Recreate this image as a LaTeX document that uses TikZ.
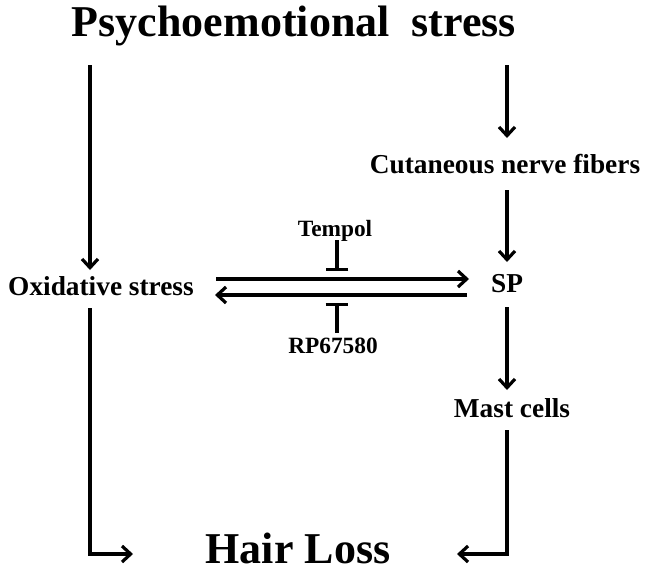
\documentclass[tikz,border=0pt]{standalone}
\usepackage{fontspec}
\setmainfont{Liberation Serif}
\usetikzlibrary{arrows.meta}
\tikzset{
  arr/.style={line width=2.5pt,-{Straight Barb[length=6.5pt,width=12pt,line width=2.4pt]}},
  inh/.style={line width=2.5pt,-{Bar[width=17pt,line width=2.5pt]}},
  lbl/.style={inner sep=0pt,anchor=base,font=\fontsize{20.5}{24}\bfseries\selectfont},
  sml/.style={inner sep=0pt,anchor=base,font=\fontsize{17.5}{21}\bfseries\selectfont},
  big/.style={inner sep=0pt,anchor=base,font=\fontsize{33}{38}\bfseries\selectfont}
}
\begin{document}
\begin{tikzpicture}[x=0.75pt,y=-0.75pt]
\useasboundingbox (0,0) rectangle (648,571);
% texts
\node[big] (title) at (294,36) {Psychoemotional\ \ stress};
\node[lbl] (cut) at (505,173) {Cutaneous nerve fibers};
\node[lbl] (ox) at (101,295) {Oxidative stress};
\node[lbl] (sp) at (507,292) {SP};
\node[sml] (tem) at (335,236) {Tempol};
\node[sml] (rp) at (333,353) {RP67580};
\node[lbl] (mast) at (512,417) {Mast cells};
\node[big] (hair) at (298,563) {Hair Loss};
% coordinates
\coordinate (l1) at (90,65);   \coordinate (l2) at (90,270);
\coordinate (r1) at (507,65);  \coordinate (r2) at (507,138);
\coordinate (r3) at (507,190); \coordinate (r4) at (507,262);
\coordinate (r5) at (507,307); \coordinate (r6) at (507,390);
\coordinate (r7) at (507,430); \coordinate (r8) at (507,554);
\coordinate (h2) at (457,554);
\coordinate (l3) at (90,308);  \coordinate (l4) at (90,554);
\coordinate (h1) at (133,554);
\coordinate (ta) at (216,279); \coordinate (tb) at (469,279);
\coordinate (ba) at (467,295); \coordinate (bb) at (215,295);
\coordinate (t1) at (337,240); \coordinate (t2) at (337,271);
\coordinate (p1) at (337,333); \coordinate (p2) at (337,303);
% connectors
\draw[arr] (l1) -- (l2);
\draw[arr] (r1) -- (r2);
\draw[arr] (r3) -- (r4);
\draw[arr] (r5) -- (r6);
\draw[arr] (r7) -- (r8) -- (h2);
\draw[arr] (l3) -- (l4) -- (h1);
\draw[arr] (ta) -- (tb);
\draw[arr] (ba) -- (bb);
\draw[inh] (t1) -- (t2);
\draw[inh] (p1) -- (p2);
\end{tikzpicture}
\end{document}
